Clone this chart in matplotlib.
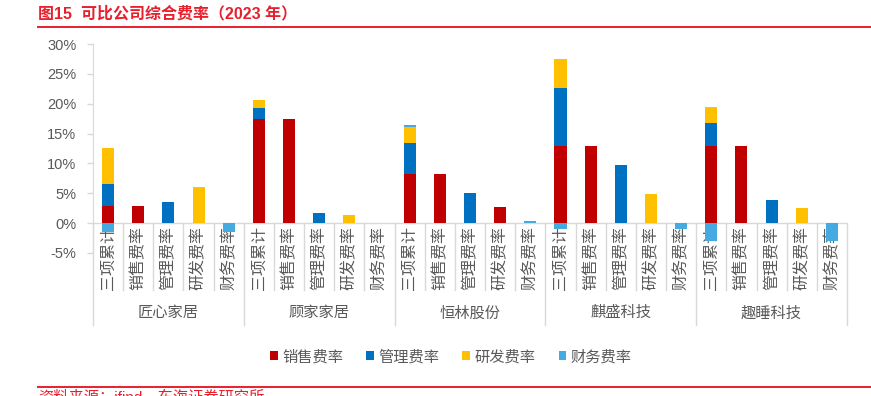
import numpy as np
import matplotlib
matplotlib.use('Agg')
import matplotlib.pyplot as plt
from matplotlib.lines import Line2D

plt.rcParams['font.family'] = ['Liberation Sans', 'Noto Sans CJK SC', 'DejaVu Sans']

companies = ['匠心家居', '顾家家居', '恒林股份', '麒盛科技', '趣睡科技']
cats = ['三项累计', '销售费率', '管理费率', '研发费率', '财务费率']

# % values, 5 slots per company (三项累计, 销售, 管理, 研发, 财务)
sales = [2.9, 2.9, 0, 0, 0,
         17.5, 17.5, 0, 0, 0,
         8.3, 8.3, 0, 2.7, 0,
         12.9, 12.9, 0, 0, 0,
         12.9, 12.9, 0, 0, 0]
admin = [3.6, 0, 3.6, 0, 0,
         1.8, 0, 1.7, 0, 0,
         5.1, 0, 5.1, 0, 0,
         9.8, 0, 9.8, 0, 0,
         3.9, 0, 3.9, 0, 0]
rnd = [6.1, 0, 0, 6.1, 0,
       1.4, 0, 0, 1.35, 0,
       2.7, 0, 0, 0, 0,
       4.8, 0, 0, 4.8, 0,
       2.6, 0, 0, 2.6, 0]
fin = [-1.5, 0, 0, 0, -1.5,
       0, 0, 0, 0, 0,
       0.3, 0, 0, 0, 0.3,
       -1.0, 0, 0, 0, -1.0,
       -3.0, 0, 0, 0, -3.0]

series = [('销售费率', sales, '#C00000'),
          ('管理费率', admin, '#0070C0'),
          ('研发费率', rnd, '#FFC000'),
          ('财务费率', fin, '#45A9E2')]

gray = '#595959'
line_gray = '#D9D9D9'
red = '#E8202E'

fig = plt.figure(figsize=(8.71, 3.96), dpi=100)
ax = fig.add_axes([93 / 871, (396 - 253) / 396, 754 / 871, 209 / 396])

n = len(sales)
x = np.arange(n)
pos = np.zeros(n)
neg = np.zeros(n)
for name, vals, color in series:
    v = np.array(vals, dtype=float)
    bottom = np.where(v >= 0, pos, neg)
    ax.bar(x, v, 0.4, bottom=bottom, color=color, label=name, zorder=3)
    pos += np.where(v >= 0, v, 0)
    neg += np.where(v < 0, v, 0)

ax.set_xlim(-0.5, n - 0.5)
ax.set_ylim(-5, 30)
ax.set_yticks(np.arange(-5, 31, 5))
ax.set_yticklabels([f'{t}%' for t in range(-5, 31, 5)], fontsize=10.5, color=gray)
ax.tick_params(axis='y', length=4, color=line_gray, width=1, pad=8)
ax.set_xticks([])
for s in ['top', 'right', 'bottom']:
    ax.spines[s].set_visible(False)
ax.spines['left'].set_color(line_gray)
ax.axhline(0, color=line_gray, lw=1, zorder=2)

# category labels and separators
for i in range(n):
    ax.text(i, -11.2, cats[i % 5], rotation=90, ha='center', va='bottom',
            fontsize=11.5, color=gray, clip_on=False, zorder=1)
for b in range(n + 1):
    low = -17.1 if b % 5 == 0 else -11.2
    ax.plot([b - 0.5, b - 0.5], [0, low], color=line_gray, lw=1, clip_on=False, zorder=1)
for g, name in enumerate(companies):
    ax.text(g * 5 + 2, -15.1, name, ha='center', va='center', fontsize=11,
            color=gray, clip_on=False)

leg = fig.legend(loc='center', bbox_to_anchor=(451 / 871, 1 - 357 / 396), ncol=4,
                 frameon=False, fontsize=11, handlelength=0.5, handleheight=0.5,
                 handletextpad=0.3, columnspacing=1.5)
for t in leg.get_texts():
    t.set_color(gray)

# title and frame lines
fig.text(38 / 871, 1 - 14 / 396, '图15  可比公司综合费率（2023 年）', fontsize=11.5,
         fontweight='bold', color=red, ha='left', va='center')
fig.add_artist(Line2D([38 / 871, 1], [1 - 27 / 396] * 2, color=red, lw=1.4))
fig.add_artist(Line2D([38 / 871, 1], [1 - 387 / 396] * 2, color=red, lw=1.4))
fig.text(38 / 871, 1 - 390 / 396, '资料来源：ifind，东海证券研究所', fontsize=11,
         color=red, ha='left', va='top')

fig.savefig('out.png', dpi=100)
